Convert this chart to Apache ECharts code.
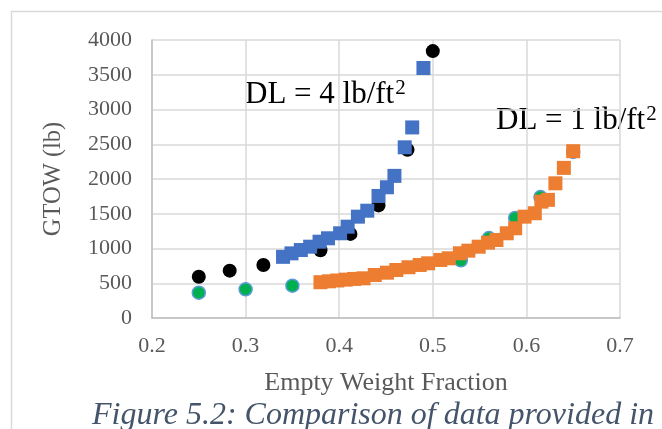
<!DOCTYPE html>
<html>
<head>
<meta charset="utf-8">
<script src="https://cdn.jsdelivr.net/npm/echarts@6/dist/echarts.min.js"></script>
<style>
html,body{margin:0;padding:0;background:#fff;}
#c{width:662px;height:429px;}
</style>
</head>
<body>
<div id="c"></div>
<script>
// X-axis tick labels
const xTicks = [0.2, 0.3, 0.4, 0.5, 0.6, 0.7];
// Y-axis tick labels
const yTicks = [0, 500, 1000, 1500, 2000, 2500, 3000, 3500, 4000];

// Black reference points (DL = 4)
const blackX = [0.250, 0.283, 0.319, 0.380, 0.412, 0.442, 0.473, 0.500];
const blackY = [594, 681, 763, 975, 1210, 1620, 2420, 3840];

// Green reference points (DL = 1)
const greenX = [0.250, 0.300, 0.350, 0.530, 0.560, 0.588, 0.615, 0.650];
const greenY = [364, 413, 465, 830, 1150, 1440, 1740, 2390];

// Blue squares: DL = 4 lb/ft^2
const blueX = [0.340, 0.349, 0.359, 0.369, 0.379, 0.388, 0.401, 0.409, 0.420, 0.430, 0.442, 0.451, 0.459, 0.470, 0.478, 0.490];
const blueY = [880, 930, 978, 1026, 1098, 1147, 1219, 1314, 1458, 1544, 1756, 1881, 2045, 2456, 2742, 3597];

// Orange squares: DL = 1 lb/ft^2
const orangeX = [0.380, 0.389, 0.398, 0.407, 0.416, 0.426, 0.438, 0.451, 0.461, 0.474, 0.486, 0.495, 0.508, 0.517, 0.529, 0.538, 0.549, 0.559, 0.568, 0.579, 0.588, 0.598, 0.609, 0.616, 0.623, 0.631, 0.640, 0.650];
const orangeY = [515, 528, 540, 552, 562, 571, 619, 652, 691, 730, 763, 787, 835, 859, 931, 969, 1026, 1084, 1122, 1219, 1291, 1458, 1507, 1674, 1700, 1938, 2160, 2400];

const zip = (xs, ys) => xs.map((x, i) => [x, ys[i]]);

const serif = '"Liberation Serif", "Times New Roman", serif';
const gray = '#595959';

const dlRich = {
  a: {fontSize: 31, fontFamily: serif, color: '#000', verticalAlign: 'bottom', lineHeight: 36},
  s: {fontSize: 21, fontFamily: serif, color: '#000', verticalAlign: 'top', lineHeight: 21, padding: [4, 0, 0, 1]}
};

const chart = echarts.init(document.getElementById('c'), null, {renderer: 'canvas'});
chart.setOption({
  backgroundColor: '#ffffff',
  animation: false,
  grid: {left: 152, top: 40, width: 468, height: 278, containLabel: false},
  xAxis: {
    type: 'value', min: xTicks[0], max: xTicks[xTicks.length - 1], interval: 0.1,
    axisLine: {show: true, lineStyle: {color: '#bfbfbf', width: 1.5}},
    axisTick: {show: false},
    splitLine: {show: true, lineStyle: {color: '#d9d9d9', width: 1.5}},
    axisLabel: {color: gray, fontFamily: serif, fontSize: 22, margin: 17,
      formatter: v => v.toFixed(1)},
    name: 'Empty Weight Fraction', nameLocation: 'middle', nameGap: 52,
    nameTextStyle: {color: gray, fontFamily: serif, fontSize: 26}
  },
  yAxis: {
    type: 'value', min: yTicks[0], max: yTicks[yTicks.length - 1], interval: 500,
    axisLine: {show: true, lineStyle: {color: '#bfbfbf', width: 1.5}},
    axisTick: {show: false},
    splitLine: {show: true, lineStyle: {color: '#d9d9d9', width: 1.5}},
    axisLabel: {color: gray, fontFamily: serif, fontSize: 22, margin: 20,
      formatter: v => String(v)},
    name: 'GTOW (lb)', nameLocation: 'middle', nameGap: 86, nameRotate: 90,
    nameTextStyle: {color: gray, fontFamily: serif, fontSize: 24.5}
  },
  graphic: [
    {type: 'rect', silent: true, z: -10, shape: {x: 11.5, y: 11.5, width: 700, height: 500},
      style: {fill: 'none', stroke: '#d9d9d9', lineWidth: 1.5}},
    {type: 'text', left: 245, top: 74, style: {text: '{a|DL = 4 lb/ft}{s|2}', rich: dlRich}},
    {type: 'text', left: 496, top: 100, style: {text: '{a|DL = 1 lb/ft}{s|2}', rich: dlRich}},
    {type: 'text', left: 92, top: 400, style: {text: 'Figure 5.2: Comparison of data provided in', font: 'italic 32px ' + serif, fill: '#44546a'}}
  ],
  series: [
    {type: 'scatter', data: zip(blackX, blackY), symbol: 'circle', symbolSize: 14,
      itemStyle: {color: '#000000', opacity: 1}},
    {type: 'scatter', data: zip(greenX, greenY), symbol: 'circle', symbolSize: 13,
      itemStyle: {color: '#00b050', borderColor: '#5b9bd5', borderWidth: 1.5, opacity: 1}},
    {type: 'scatter', data: zip(blueX, blueY), symbol: 'rect', symbolSize: 14,
      itemStyle: {color: '#4472c4', opacity: 1}},
    {type: 'scatter', data: zip(orangeX, orangeY), symbol: 'rect', symbolSize: 14,
      itemStyle: {color: '#ed7d31', opacity: 1}}
  ]
});
</script>
</body>
</html>
